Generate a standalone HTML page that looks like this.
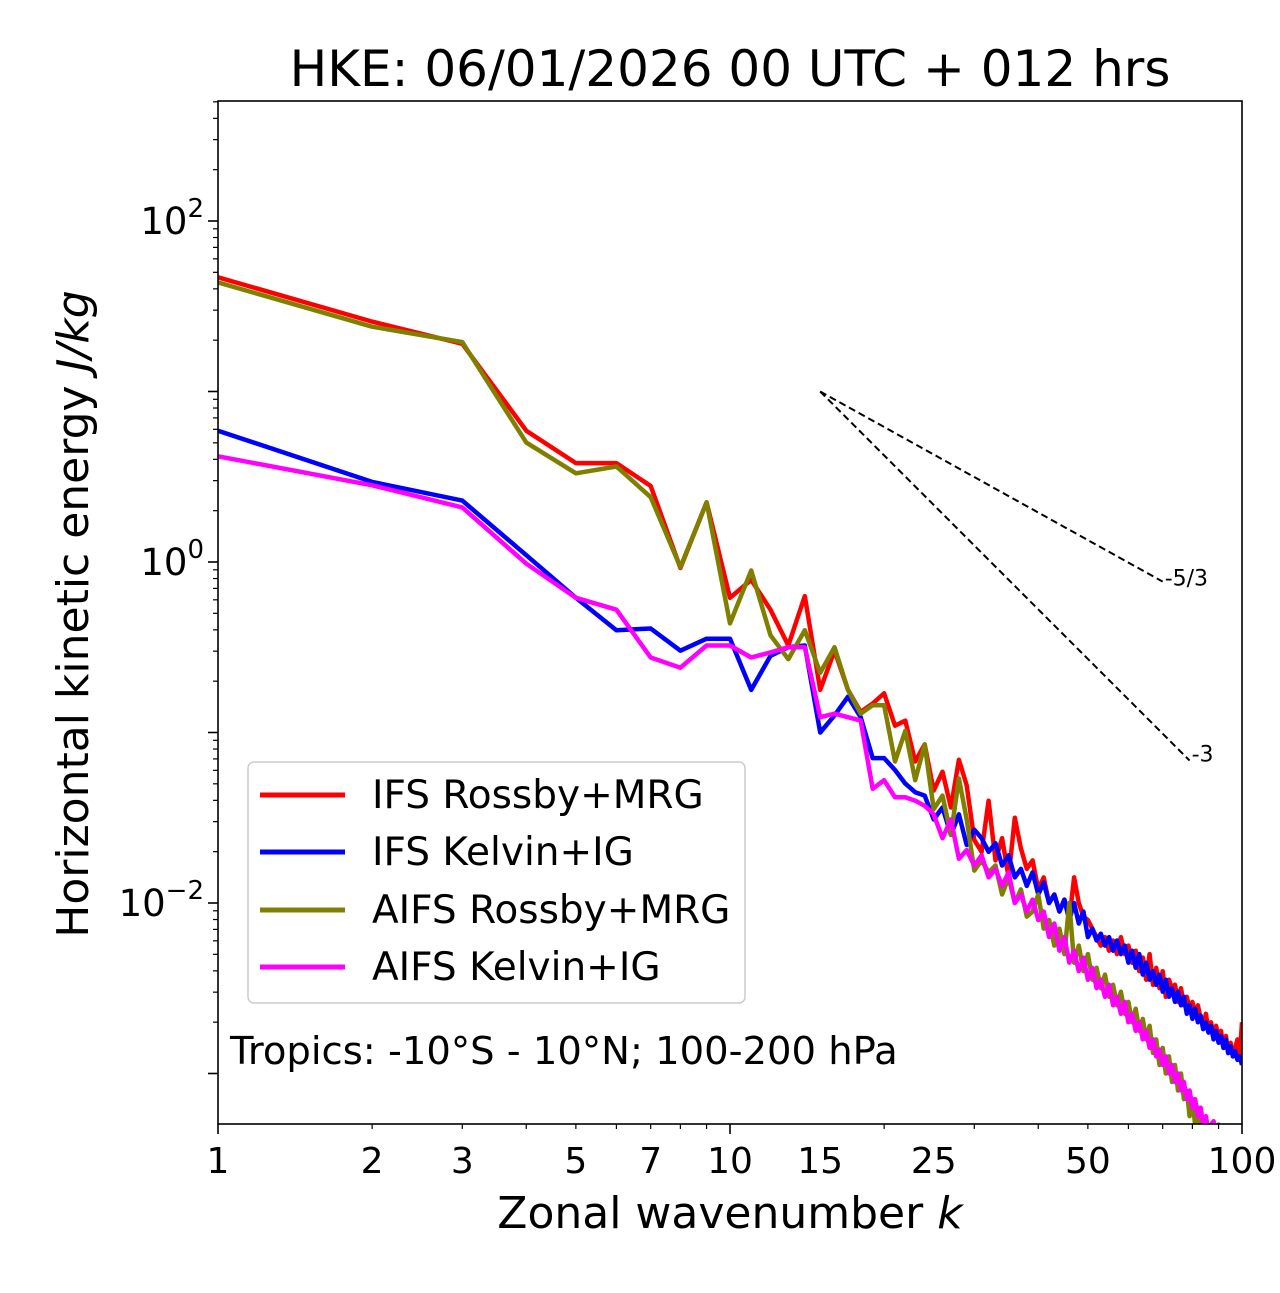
<!DOCTYPE html>
<html><head><meta charset="utf-8"><style>
html,body{margin:0;padding:0;background:#fff;}
svg text{font-family:"DejaVu Sans","Liberation Sans",sans-serif;fill:#000;}
</style></head><body>
<svg id="chart" width="1280" height="1288" xmlns="http://www.w3.org/2000/svg">
<defs><clipPath id="clip"><rect x="218" y="101" width="1024" height="1023"/></clipPath></defs>
<text x="730" y="86" font-size="50" text-anchor="middle">HKE: 06/01/2026 00 UTC + 012 hrs</text>
<g id="ticks"></g>
<g id="series" clip-path="url(#clip)"></g>
<rect x="218" y="101" width="1024" height="1023" fill="none" stroke="#000" stroke-width="1.6"/>
<text x="730" y="1228" font-size="44" text-anchor="middle">Zonal wavenumber <tspan font-style="italic">k</tspan></text>
<text transform="translate(88,614) rotate(-90)" font-size="44" text-anchor="middle">Horizontal kinetic energy <tspan font-style="italic">J/kg</tspan></text>
<g>
<rect x="248" y="762" width="497" height="241" rx="6" fill="#fff" fill-opacity="0.85" stroke="#ccc" stroke-width="1.5"/>
<g><line x1="260" y1="795" x2="345" y2="795" stroke="#ff0000" stroke-width="5"/><text x="372" y="808" font-size="39">IFS Rossby+MRG</text></g>
<g><line x1="260" y1="852" x2="345" y2="852" stroke="#0000ff" stroke-width="5"/><text x="372" y="865" font-size="39">IFS Kelvin+IG</text></g>
<g><line x1="260" y1="910" x2="345" y2="910" stroke="#808000" stroke-width="5"/><text x="372" y="923" font-size="39">AIFS Rossby+MRG</text></g>
<g><line x1="260" y1="967" x2="345" y2="967" stroke="#ff00ff" stroke-width="5"/><text x="372" y="980" font-size="39">AIFS Kelvin+IG</text></g>
</g>
<text x="230" y="1064" font-size="38.5">Tropics: -10°S - 10°N; 100-200 hPa</text>
</svg>
<script>
// log10 of horizontal kinetic energy (J/kg), k = 1..100
const wavenumbers = Array.from({length:100},(_,i)=>i+1);
const ifsRossbyLog = [1.67,1.41,1.28,0.77,0.58,0.58,0.446,-0.035,0.35,-0.21,-0.105,-0.28,-0.49,-0.2,-0.75,-0.52,-0.75,-0.88,-0.83,-0.77,-0.96,-0.93,-1.17,-1.07,-1.34,-1.23,-1.44,-1.16,-1.31,-1.63,
-1.70,-1.40,-1.75,-1.62,-1.85,-1.50,-1.68,-1.80,-1.75,-1.92,
-1.85,-2.0,-1.95,-2.05,-1.98,-2.1,-1.85,-2.0,-2.08,-2.1,
-2.15,-2.2,-2.25,-2.2,-2.28,-2.22,-2.3,-2.2,-2.3,-2.25,
-2.35,-2.28,-2.4,-2.32,-2.45,-2.3,-2.48,-2.38,-2.5,-2.4,
-2.55,-2.45,-2.5,-2.48,-2.58,-2.5,-2.6,-2.55,-2.62,-2.58,
-2.66,-2.6,-2.68,-2.72,-2.65,-2.75,-2.7,-2.78,-2.72,-2.8,
-2.75,-2.85,-2.78,-2.88,-2.82,-2.9,-2.85,-2.8,-2.9,-2.7];
const ifsKelvinLog = [0.77,0.47,0.36,0.04,-0.21,-0.40,-0.39,-0.52,-0.45,-0.45,-0.75,-0.55,-0.50,-0.49,-1.0,-0.90,-0.79,-0.91,-1.15,-1.15,-1.22,-1.30,-1.35,-1.37,-1.51,-1.44,-1.60,-1.48,-1.66,-1.57,
-1.62,-1.7,-1.65,-1.78,-1.72,-1.85,-1.8,-1.9,-1.82,-1.95,
-1.88,-2.0,-1.95,-2.05,-1.98,-2.1,-2.0,-2.12,-2.05,-2.2,
-2.15,-2.22,-2.18,-2.25,-2.2,-2.28,-2.22,-2.3,-2.25,-2.35,
-2.28,-2.38,-2.3,-2.42,-2.35,-2.45,-2.4,-2.48,-2.42,-2.52,
-2.45,-2.55,-2.5,-2.58,-2.52,-2.6,-2.55,-2.65,-2.6,-2.68,
-2.62,-2.7,-2.66,-2.74,-2.7,-2.76,-2.72,-2.8,-2.75,-2.82,
-2.78,-2.85,-2.8,-2.88,-2.84,-2.9,-2.87,-2.92,-2.9,-2.95];
const aifsRossbyLog = [1.64,1.38,1.29,0.70,0.52,0.56,0.38,-0.03,0.35,-0.36,-0.05,-0.43,-0.57,-0.40,-0.65,-0.50,-0.75,-0.89,-0.84,-0.84,-1.17,-0.99,-1.28,-1.07,-1.45,-1.37,-1.60,-1.27,-1.51,-1.81,
-1.75,-1.82,-1.78,-1.95,-1.85,-2.0,-1.92,-2.08,-2.05,-1.95,
-2.15,-2.1,-2.25,-2.15,-2.3,-2.0,-2.35,-2.25,-2.4,-2.3,
-2.45,-2.38,-2.5,-2.42,-2.55,-2.48,-2.6,-2.52,-2.65,-2.58,
-2.7,-2.62,-2.75,-2.68,-2.8,-2.72,-2.88,-2.8,-2.95,-2.85,
-3.0,-2.9,-3.05,-2.95,-3.1,-3.0,-3.15,-3.1,-3.25,-3.15,
-3.3,-3.2,-3.35,-3.3,-3.4,-3.35,-3.45,-3.4,-3.5,-3.45,
-3.55,-3.5,-3.6,-3.55,-3.65,-3.6,-3.7,-3.65,-3.75,-3.7];
const aifsKelvinLog = [0.62,0.45,0.32,-0.01,-0.21,-0.28,-0.56,-0.62,-0.49,-0.49,-0.56,-0.53,-0.50,-0.50,-0.91,-0.89,-0.91,-0.93,-1.33,-1.28,-1.38,-1.38,-1.40,-1.43,-1.48,-1.62,-1.51,-1.74,-1.69,-1.78,
-1.72,-1.85,-1.8,-1.9,-1.82,-2.0,-1.95,-2.05,-1.98,-2.1,
-2.05,-2.2,-2.12,-2.28,-2.2,-2.35,-2.28,-2.4,-2.32,-2.45,
-2.38,-2.5,-2.45,-2.55,-2.48,-2.6,-2.55,-2.65,-2.58,-2.7,
-2.65,-2.75,-2.7,-2.8,-2.75,-2.85,-2.8,-2.9,-2.86,-2.95,
-2.9,-3.0,-2.95,-3.05,-3.0,-3.1,-3.05,-3.15,-3.1,-3.2,
-3.15,-3.25,-3.2,-3.3,-3.25,-3.35,-3.3,-3.28,-3.4,-3.3,
-3.45,-3.4,-3.5,-3.45,-3.55,-3.5,-3.6,-3.55,-3.65,-3.6];
const xTickLabels = [1,2,3,5,7,10,15,25,50,100];
const yTickDecades = [-3,-2,-1,0,1,2];
const yLabelDecades = [-2,0,2];
const refStartK = 15, refEndK53 = 70, refEndK3 = 79, refStartE = 10;

const X0=218, X1=1242, Y0=101, Y1=1124;
const xMinLog=0, xMaxLog=2, yMinLog=-3.2962, yMaxLog=2.7038;
function xs(k){return X0+(Math.log10(k)-xMinLog)/(xMaxLog-xMinLog)*(X1-X0);}
function ysLog(l){return Y1-(l-yMinLog)/(yMaxLog-yMinLog)*(Y1-Y0);}
const NS="http://www.w3.org/2000/svg";
const ticks=document.getElementById('ticks'), series=document.getElementById('series');
function mk(tag,attrs,parent){const e=document.createElementNS(NS,tag);for(const a in attrs)e.setAttribute(a,attrs[a]);parent.appendChild(e);return e;}

for(let d=0; d<2; d++){for(let m=1;m<10;m++){const k=m*Math.pow(10,d);const x=xs(k);
 const t=mk('line',{x1:x,y1:Y1,x2:x,y2:Y1+(m===1?10:5),stroke:'#000','stroke-width':m===1?1.6:1.2},ticks);
 
 }}
mk('line',{x1:xs(100),y1:Y1,x2:xs(100),y2:Y1+10,stroke:'#000','stroke-width':1.6},ticks);
xTickLabels.forEach(k=>{const t=mk('text',{x:xs(k),y:Y1+49,'font-size':36,'text-anchor':'middle'},ticks);t.textContent=k;
 
 });
yTickDecades.forEach(d=>{for(let m=1;m<10;m++){const l=d+Math.log10(m);if(l<yMinLog||l>yMaxLog)continue;const y=ysLog(l);
 const t=mk('line',{x1:X0,y1:y,x2:X0-(m===1?10:5),y2:y,stroke:'#000','stroke-width':m===1?1.6:1.2},ticks);
 
 }});
yLabelDecades.forEach(d=>{const y=ysLog(d);const t=mk('text',{x:X0-14,y:y+13,'font-size':37,'text-anchor':'end'},ticks);
 t.textContent='10';const s=mk('tspan',{dy:-17,'font-size':26},t);s.textContent=d<0?'\u2212'+(-d):String(d);
 
 });

const defs=[[ifsRossbyLog,'#ff0000','ifs-rossby-line'],[ifsKelvinLog,'#0000ff','ifs-kelvin-line'],[aifsRossbyLog,'#808000','aifs-rossby-line'],[aifsKelvinLog,'#ff00ff','aifs-kelvin-line']];
defs.forEach(([arr,col,name])=>{const pts=arr.map((v,i)=>xs(wavenumbers[i]).toFixed(1)+','+ysLog(v).toFixed(1)).join(' ');
 const p=mk('polyline',{points:pts,fill:'none',stroke:col,'stroke-width':4.5,'stroke-linejoin':'round'},series);
 
 });

const l0=Math.log10(refStartE);
const y53=l0-5/3*Math.log10(refEndK53/refStartK), y3=l0-3*Math.log10(refEndK3/refStartK);
const r1=mk('line',{x1:xs(refStartK),y1:ysLog(l0),x2:xs(refEndK53),y2:ysLog(y53),stroke:'#000','stroke-width':2,'stroke-dasharray':'7,4'},series);


const r2=mk('line',{x1:xs(refStartK),y1:ysLog(l0),x2:xs(refEndK3),y2:ysLog(y3),stroke:'#000','stroke-width':2,'stroke-dasharray':'7,4'},series);


const t1=mk('text',{x:xs(refEndK53)+2,y:ysLog(y53)+4,'font-size':22},ticks);t1.textContent='-5/3';


const t2=mk('text',{x:xs(refEndK3)+2,y:ysLog(y3)+1,'font-size':22},ticks);t2.textContent='-3';


</script>
</body></html>
